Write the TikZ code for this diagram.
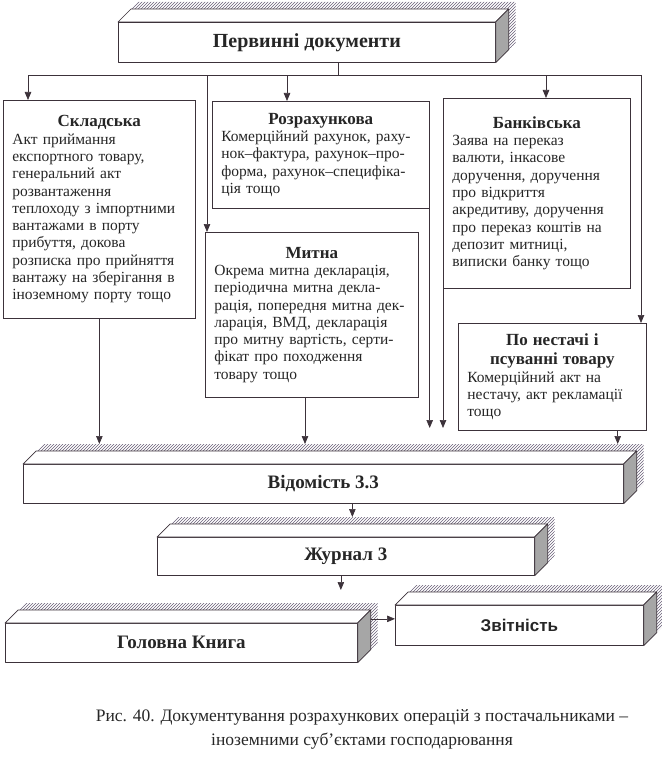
\documentclass[tikz,border=0pt]{standalone}
\usepackage{fontspec}
\setmainfont{Liberation Serif}
\newfontfamily\sansfont{Liberation Sans}
\usetikzlibrary{positioning,arrows.meta,calc,patterns}
\setlength{\parindent}{0pt}
\hyphenpenalty=10000 \exhyphenpenalty=10000

\colorlet{ink}{black!85}
\definecolor{wire}{RGB}{60,50,58}
\definecolor{hatch}{RGB}{105,95,120}
\newcommand\dep{13}  % depth of the bars
\newcommand\shd{7}   % offset of the hatched shadow
\newcommand\boxhead[1]{{\centering\bfseries\fontsize{17}{19.5}\selectfont #1\par}}

% top and side faces of a bar, with its shadow
\newcommand\barfaces[1]{%
  \fill[pattern=north east lines, pattern color=hatch]
    ([shift={(\shd,-\shd)}]#1.north west) -- ++(\dep,-\dep)
    -- ([shift={(\dep+\shd,-\dep-\shd)}]#1.north east)
    -- ([shift={(\dep+\shd,-\dep-\shd)}]#1.south east)
    -- ([shift={(\shd,-\shd)}]#1.south east)
    -- ([shift={(\shd,-\shd)}]#1.north east) -- cycle;
  \draw[barline, fill=white] (#1.north west) -- ++(\dep,-\dep)
    -- ([shift={(\dep,-\dep)}]#1.north east) -- (#1.north east) -- cycle;
  \draw[barline, fill=black!35] (#1.north east) -- ++(\dep,-\dep)
    -- ([shift={(\dep,-\dep)}]#1.south east) -- (#1.south east) -- cycle;
}

\tikzset{
  barline/.style={draw=wire, line width=.7pt, line join=round},
  bar/.style={barline, fill=white, anchor=north west, inner sep=0pt, text=ink,
    font=\fontsize{19}{22}\selectfont\bfseries},
  docbox/.style={draw=wire, line width=.7pt, fill=white, anchor=north west,
    inner xsep=9pt, inner ysep=3pt, text=ink, font=\fontsize{15.5}{17.3}\selectfont},
  link/.style={draw=wire, line width=.7pt},
  arr/.style={link, -{Triangle[length=8pt,width=6.5pt]}}
}

\begin{document}
\begin{tikzpicture}[x=1pt,y=-1pt]
\useasboundingbox (0,0) rectangle (661,759);

% bars
\node[bar, minimum width=377, minimum height=40, font=\fontsize{20}{23}\selectfont\bfseries] (prim) at (118,22) {Первинні документи};
\barfaces{prim}
\node[bar, minimum width=600, minimum height=39] (ved) at (23,464) {Відомість 3.3};
\barfaces{ved}
\node[bar, minimum width=377, minimum height=38] (zhur) at (157,537) {Журнал 3};
\barfaces{zhur}
\node[bar, minimum width=352, minimum height=39] (holov) at (5,623) {Головна Книга};
\barfaces{holov}
\node[bar, minimum width=248, minimum height=40, font=\fontsize{17}{19}\selectfont\sansfont\bfseries] (zvit) at (395,605) {Звітність};
\barfaces{zvit}

% document groups
\node[docbox, text width=174, minimum height=218] (sklad) at (3,100) {\boxhead{Складська}%
  Акт приймання\\ експортного товару,\\ генеральний акт\\ розвантаження\\
  теплоходу з імпортними\\ вантажами в порту\\ прибуття, докова\\
  розписка про прийняття\\ вантажу на зберігання в\\ іноземному порту тощо};
\node[docbox, text width=199, minimum height=107] (rozr) at (212,101) {\boxhead{Розрахункова}%
  Комерційний рахунок, раху-\\ нок–фактура, рахунок–про-\\ форма, рахунок–специфіка-\\ ція тощо};
\node[docbox, text width=195, minimum height=165] (mytna) at (205,232) {\boxhead{Митна}%
  Окрема митна декларація,\\ періодична митна декла-\\ рація, попередня митна дек-\\
  ларація, ВМД, декларація\\ про митну вартість, серти-\\ фікат про походження\\ товару тощо};
\node[docbox, text width=169, minimum height=190] (bank) at (443,98) {\boxhead{Банківська}%
  Заява на переказ\\ валюти, інкасове\\ доручення, доручення\\ про відкриття\\
  акредитиву, доручення\\ про переказ коштів на\\ депозит митниці,\\ виписки банку тощо};
\node[docbox, text width=170, minimum height=107] (nest) at (458,323) {\boxhead{По нестачі і\\ псуванні товару}%
  Комерційний акт на\\ нестачу, акт рекламації\\ тощо};

% from the primary documents
\coordinate (hub) at (338,75);
\draw[link] (prim.south -| hub) -- (hub);
\draw[arr] (hub) -| ([xshift=25pt]sklad.north west);
\draw[arr] (hub) -| ([xshift=75pt]rozr.north west);
\draw[arr] (hub) -| ([xshift=2pt]mytna.north west);
\draw[arr] (hub) -| ([xshift=103pt]bank.north west);
\draw[arr] (hub) -| ([xshift=183pt]nest.north west);

% into the statement
\coordinate (vedtop) at ([yshift=20pt]ved.north);
\coordinate (vedhigh) at ([yshift=36pt]ved.north);
\path ([xshift=100pt]mytna.south west) coordinate (outM)
      ([xshift=-29pt]nest.south east) coordinate (outN);
\draw[arr] (sklad.south) -- (sklad.south |- vedtop);
\draw[arr] (outM) -- (outM |- vedtop);
\draw[arr] (rozr.south east) -- (rozr.south east |- vedhigh);
\draw[arr] (bank.south west) -- (bank.south west |- vedhigh);
\draw[arr] (outN) -- (outN |- vedtop);

% down to the ledger and reports
\coordinate (zhtop) at ([yshift=20pt]zhur.north);
\coordinate (hotop) at ([yshift=33pt]holov.north);
\path ([xshift=29pt]ved.south) coordinate (outV)
      ([xshift=-5pt]zhur.south) coordinate (outZ)
      ([shift={(13pt,24pt)}]holov.east) coordinate (outH);
\draw[arr] (outV) -- (outV |- zhtop);
\draw[arr] (outZ) -- (outZ |- hotop);
\draw[arr] (outH) -- (outH -| zvit.west);

% caption
\node[font=\fontsize{17.5}{24}\selectfont, align=center, text=ink] (cap) at (362,729)
  {Рис. 40. Документування розрахункових операцій з постачальниками –\\іноземними суб’єктами господарювання};
\end{tikzpicture}
\end{document}
